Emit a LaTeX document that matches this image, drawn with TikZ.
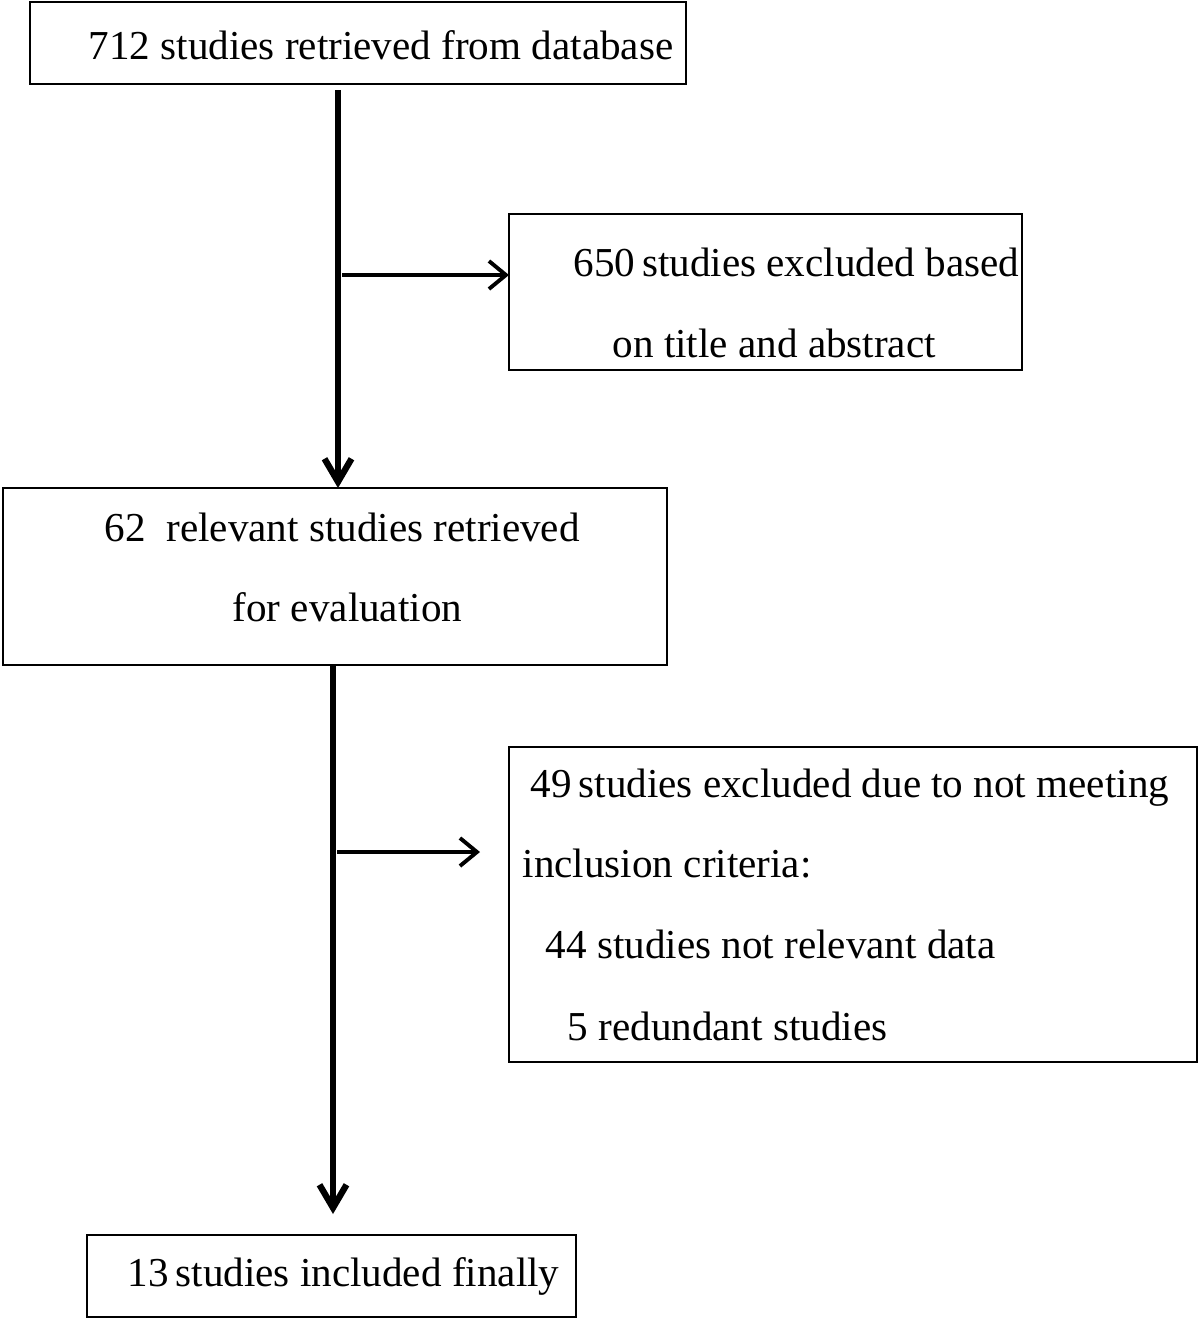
\documentclass[tikz,border=0pt]{standalone}
\usepackage{fontspec}
\setmainfont{Liberation Serif}
\usepackage{tikz}
\usetikzlibrary{arrows.meta, positioning, calc}

\begin{document}
\begin{tikzpicture}[font=\fontsize{11.7}{13}\selectfont,
        box/.style={draw, line width=0.6pt, inner sep=0pt, outer sep=0pt},
        txt/.style={anchor=base west, inner sep=0pt},
        mainarrow/.style={line width=1.8pt, -{Straight Barb[length=2.3mm, width=2.7mm]}},
        sidearrow/.style={line width=1.1pt, -{Straight Barb[length=1.7mm, width=2.8mm]}}]
        \useasboundingbox (0,0) rectangle (12,-13.21);
        % Boxes
        \node[box, minimum width=6.56cm, minimum height=0.82cm] (retrieved) at (3.58,-0.43) {};
        \node[box, minimum width=5.13cm, minimum height=1.56cm] (excluded) at (7.655,-2.92) {};
        \node[box, minimum width=6.64cm, minimum height=1.77cm] (relevant) at (3.35,-5.765) {};
        \node[box, minimum width=6.88cm, minimum height=3.15cm] (criteria) at (8.53,-9.045) {};
        \node[box, minimum width=4.89cm, minimum height=0.82cm] (included) at (3.315,-12.76) {};
        % Texts
        \node[txt] (t1) at (0.88,-0.59) {712 studies retrieved from database};
        \node[txt] (t2a) at (5.73,-2.76) {650\,studies excluded based};
        \node[txt] (t2b) at (6.12,-3.57) {on title and abstract};
        \node[txt] (t3a) at (1.04,-5.41) {62~ relevant studies retrieved};
        \node[txt] (t3b) at (2.32,-6.21) {for evaluation};
        \node[txt] (t4a) at (5.30,-7.97) {49\,studies excluded due to not meeting};
        \node[txt] (t4b) at (5.22,-8.77) {inclusion criteria:};
        \node[txt] (t4c) at (5.45,-9.58) {44 studies not relevant data};
        \node[txt] (t4d) at (5.67,-10.40) {5 redundant studies};
        \node[txt] (t5) at (1.27,-12.86) {13\,studies included finally};
        % Arrows
        \coordinate (s1) at (3.38,-0.90);
        \coordinate (b1) at (3.42,-2.75);
        \draw[mainarrow] (s1) -- (s1 |- relevant.north);
        \draw[sidearrow] (b1) -- (b1 -| excluded.west);
        \coordinate (s2) at (3.33,-6.65);
        \coordinate (e2) at (3.33,-12.14);
        \coordinate (b2) at (3.37,-8.52);
        \coordinate (e3) at (4.80,-8.52);
        \draw[mainarrow] (s2) -- (e2);
        \draw[sidearrow] (b2) -- (e3);
      \end{tikzpicture}
\end{document}
